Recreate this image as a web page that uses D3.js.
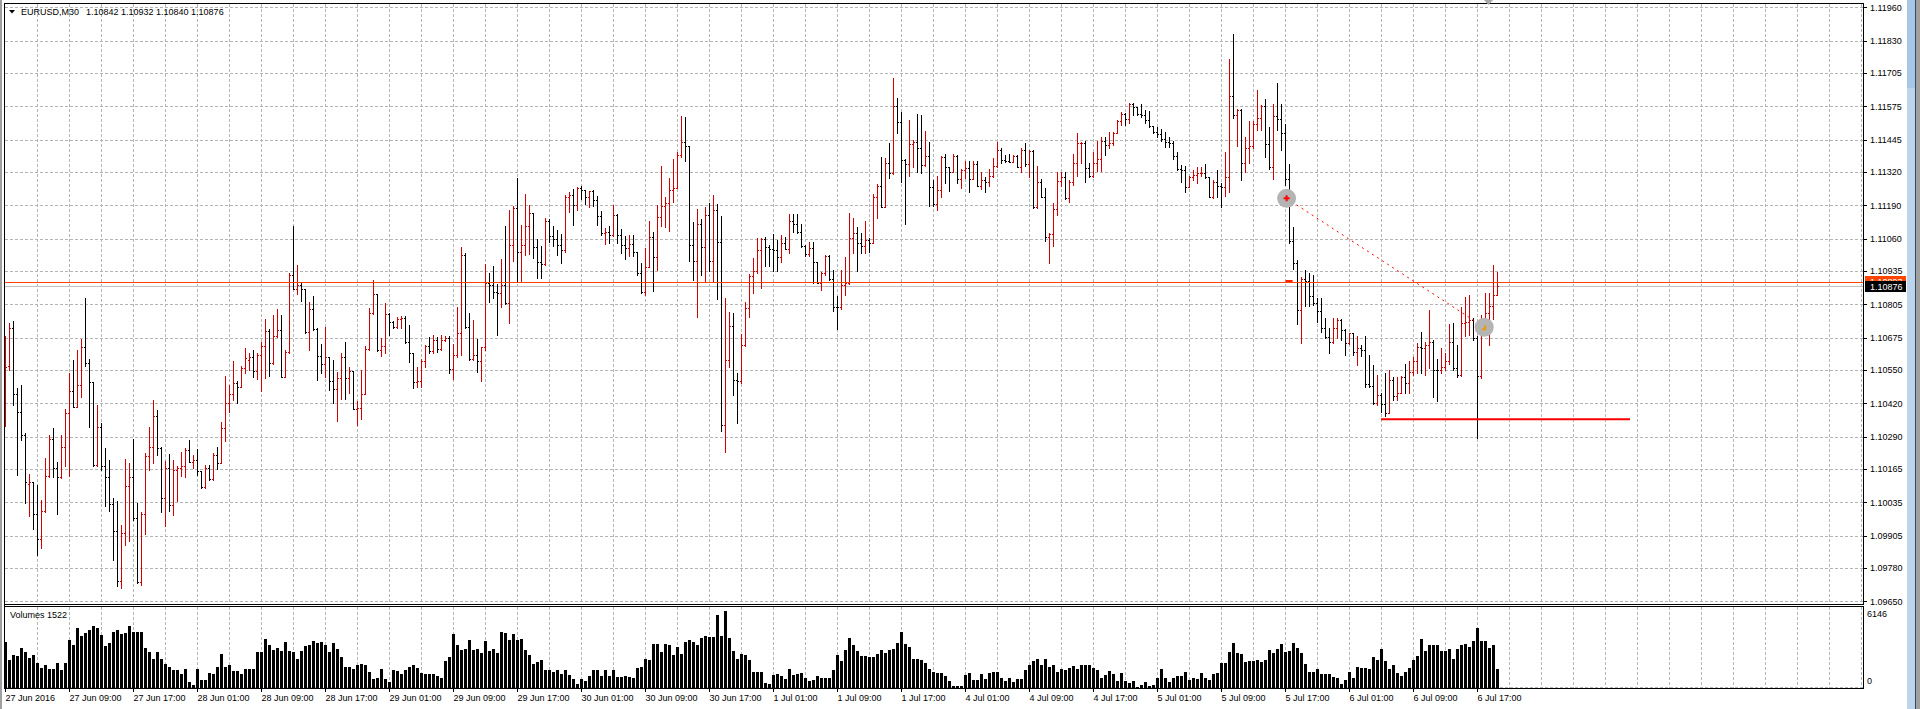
<!DOCTYPE html>
<html>
<head>
<meta charset="utf-8">
<title>EURUSD,M30</title>
<script src="https://cdnjs.cloudflare.com/ajax/libs/d3/7.8.5/d3.min.js"></script>
<style>
  html, body { margin: 0; padding: 0; background: #fff; overflow: hidden; }
  svg { display: block; }
  text { font-family: "Liberation Sans", Arial, sans-serif; font-size: 9px; fill: #000; }
</style>
</head>
<body>
<svg id="chart"></svg>
<script>
// M30 bars, 27 Jun 2016 - 6 Jul 2016
const opens = [
  1.10433,1.10566,1.10712,1.10455,1.10385,1.10296,1.10105,1.10115,1.09989,1.09892,
  1.10003,1.10137,1.10280,1.10170,1.10133,1.10249,1.10381,1.10468,1.10407,1.10490,
  1.10638,1.10576,1.10503,1.10179,1.10328,1.10178,1.10133,1.10028,1.09924,1.09728,
  1.09915,1.10098,1.10135,1.09973,1.09724,1.09990,1.10216,1.10252,1.10371,1.10248,
  1.10051,1.10168,1.10024,1.10161,1.10168,1.10177,1.10239,1.10191,1.10200,1.10155,
  1.10094,1.10168,1.10126,1.10220,1.10187,1.10323,1.10420,1.10455,1.10498,1.10485,
  1.10556,1.10590,1.10600,1.10545,1.10606,1.10643,1.10700,1.10578,1.10682,1.10705,
  1.10523,1.10621,1.10919,1.10864,1.10882,1.10864,1.10696,1.10785,1.10707,1.10604,
  1.10571,1.10599,1.10508,1.10475,1.10517,1.10601,1.10517,1.10545,1.10396,1.10402,
  1.10455,1.10631,1.10770,1.10844,1.10627,1.10643,1.10767,1.10735,1.10715,1.10746,
  1.10750,1.10659,1.10614,1.10501,1.10508,1.10586,1.10644,1.10624,1.10666,1.10630,
  1.10666,1.10673,1.10552,1.10608,1.10692,1.10996,1.10715,1.10592,1.10608,1.10584,
  1.10637,1.10886,1.10882,1.10851,1.10848,1.10881,1.10809,1.11034,1.11179,1.11008,
  1.11034,1.11110,1.11159,1.11028,1.10969,1.10962,1.11130,1.11071,1.11058,1.11036,
  1.11017,1.11222,1.11230,1.11192,1.11258,1.11250,1.11224,1.11244,1.11211,1.11150,
  1.11082,1.11088,1.11073,1.11153,1.11073,1.11036,1.11023,1.11039,1.11008,1.10926,
  1.10852,1.10949,1.11066,1.10988,1.11146,1.11188,1.11198,1.11250,1.11259,1.11386,
  1.11435,1.11421,1.11034,1.10974,1.11118,1.11027,1.11152,1.10975,1.11170,1.11047,
  1.10334,1.10587,1.10719,1.10509,1.10507,1.10647,1.10790,1.10916,1.10935,1.11015,
  1.11059,1.11029,1.11019,1.11016,1.10988,1.11045,1.11020,1.11128,1.11116,1.11085,
  1.11032,1.10999,1.11023,1.10971,1.10889,1.10926,1.10992,1.10904,1.10796,1.10793,
  1.10880,1.10887,1.11062,1.11081,1.11045,1.11032,1.11055,1.11045,1.11224,1.11265,
  1.11185,1.11353,1.11314,1.11576,1.11515,1.11366,1.11349,1.11427,1.11437,1.11414,
  1.11347,1.11383,1.11260,1.11195,1.11250,1.11379,1.11338,1.11321,1.11383,1.11292,
  1.11327,1.11334,1.11291,1.11349,1.11266,1.11288,1.11282,1.11305,1.11343,1.11405,
  1.11366,1.11363,1.11360,1.11382,1.11340,1.11407,1.11349,1.11401,1.11185,1.11282,
  1.11221,1.11065,1.11078,1.11175,1.11284,1.11301,1.11217,1.11279,1.11353,1.11431,
  1.11434,1.11334,1.11305,1.11353,1.11369,1.11440,1.11424,1.11433,1.11470,1.11518,
  1.11544,1.11524,1.11582,1.11573,1.11544,1.11541,1.11521,1.11499,1.11476,1.11467,
  1.11448,1.11435,1.11432,1.11382,1.11330,1.11327,1.11262,1.11301,1.11308,1.11314,
  1.11317,1.11299,1.11223,1.11282,1.11265,1.11260,1.11299,1.11615,1.11541,1.11560,
  1.11356,1.11411,1.11422,1.11505,1.11529,1.11577,1.11429,1.11338,1.11538,1.11526,
  1.11470,1.11292,1.11053,1.10965,1.10784,1.10905,1.10894,1.10838,1.10809,1.10780,
  1.10712,1.10676,1.10660,1.10712,1.10745,1.10706,1.10656,1.10693,1.10618,1.10634,
  1.10628,1.10494,1.10488,1.10421,1.10453,1.10417,1.10384,1.10509,1.10447,1.10462,
  1.10522,1.10498,1.10541,1.10583,1.10638,1.10634,1.10647,1.10660,1.10550,1.10548,
  1.10563,1.10583,1.10660,1.10557,1.10531,1.10732,1.10738,1.10745,1.10673,1.10527,
  1.10695,1.10771,1.10797,1.10842
];
const highs = [
  1.10682,1.10731,1.10740,1.10479,1.10492,1.10304,1.10146,1.10115,1.10103,1.10045,
  1.10207,1.10296,1.10323,1.10191,1.10296,1.10398,1.10537,1.10589,1.10628,1.10669,
  1.10829,1.10593,1.10503,1.10414,1.10343,1.10247,1.10200,1.10051,1.10039,1.09947,
  1.10204,1.10188,1.10282,1.10032,1.09999,1.10227,1.10326,1.10433,1.10394,1.10250,
  1.10194,1.10223,1.10200,1.10178,1.10231,1.10247,1.10278,1.10220,1.10242,1.10155,
  1.10181,1.10181,1.10226,1.10249,1.10346,1.10527,1.10492,1.10585,1.10508,1.10566,
  1.10634,1.10617,1.10627,1.10614,1.10657,1.10748,1.10709,1.10763,1.10787,1.10763,
  1.10627,1.10925,1.11109,1.10958,1.10889,1.10864,1.10815,1.10837,1.10714,1.10650,
  1.10715,1.10600,1.10588,1.10543,1.10617,1.10658,1.10562,1.10545,1.10430,1.10549,
  1.10643,1.10789,1.10899,1.10845,1.10673,1.10809,1.10770,1.10741,1.10757,1.10760,
  1.10760,1.10724,1.10617,1.10562,1.10591,1.10647,1.10679,1.10685,1.10679,1.10685,
  1.10683,1.10683,1.10650,1.10796,1.11029,1.11005,1.10770,1.10744,1.10670,1.10640,
  1.10962,1.10928,1.10954,1.10884,1.10981,1.11110,1.11172,1.11188,1.11298,1.11114,
  1.11235,1.11192,1.11159,1.11058,1.11030,1.11141,1.11136,1.11108,1.11095,1.11078,
  1.11231,1.11242,1.11254,1.11260,1.11266,1.11250,1.11246,1.11250,1.11228,1.11168,
  1.11101,1.11108,1.11190,1.11157,1.11097,1.11069,1.11075,1.11075,1.11010,1.10965,
  1.11023,1.11130,1.11085,1.11192,1.11343,1.11224,1.11295,1.11369,1.11399,1.11538,
  1.11533,1.11421,1.11124,1.11176,1.11137,1.11185,1.11198,1.11231,1.11194,1.11149,
  1.10829,1.10777,1.10773,1.10537,1.10690,1.10812,1.10923,1.10986,1.11064,1.11062,
  1.11068,1.11036,1.11078,1.11055,1.11075,1.11068,1.11156,1.11156,1.11156,1.11117,
  1.11035,1.11049,1.11046,1.10971,1.10931,1.10997,1.10997,1.10938,1.10837,1.10938,
  1.10990,1.11159,1.11139,1.11107,1.11081,1.11129,1.11064,1.11233,1.11273,1.11377,
  1.11373,1.11431,1.11686,1.11606,1.11554,1.11369,1.11522,1.11444,1.11545,1.11541,
  1.11479,1.11437,1.11288,1.11304,1.11382,1.11388,1.11338,1.11388,1.11386,1.11330,
  1.11362,1.11362,1.11364,1.11364,1.11318,1.11299,1.11331,1.11375,1.11437,1.11411,
  1.11385,1.11389,1.11385,1.11385,1.11411,1.11431,1.11405,1.11405,1.11343,1.11291,
  1.11258,1.11081,1.11200,1.11321,1.11321,1.11319,1.11288,1.11389,1.11472,1.11437,
  1.11440,1.11353,1.11398,1.11440,1.11457,1.11454,1.11476,1.11474,1.11521,1.11551,
  1.11547,1.11586,1.11586,1.11573,1.11582,1.11560,1.11556,1.11499,1.11495,1.11485,
  1.11476,1.11454,1.11441,1.11398,1.11347,1.11343,1.11304,1.11327,1.11337,1.11337,
  1.11350,1.11301,1.11288,1.11327,1.11275,1.11398,1.11760,1.11855,1.11563,1.11563,
  1.11457,1.11519,1.11516,1.11639,1.11580,1.11604,1.11494,1.11584,1.11665,1.11583,
  1.11507,1.11351,1.11105,1.10978,1.10912,1.10939,1.10926,1.10920,1.10829,1.10829,
  1.10751,1.10712,1.10751,1.10751,1.10747,1.10708,1.10695,1.10695,1.10680,1.10647,
  1.10682,1.10609,1.10570,1.10531,1.10462,1.10537,1.10548,1.10524,1.10522,1.10527,
  1.10572,1.10583,1.10599,1.10656,1.10699,1.10660,1.10784,1.10665,1.10592,1.10634,
  1.10615,1.10729,1.10732,1.10647,1.10796,1.10835,1.10842,1.10750,1.10680,1.10764,
  1.10849,1.10849,1.10958,1.10932
];
const lows = [
  1.10330,1.10550,1.10414,1.10142,1.10278,1.10034,1.09980,1.09931,1.09831,1.09857,
  1.09999,1.10135,1.10133,1.09989,1.10129,1.10178,1.10139,1.10405,1.10405,1.10444,
  1.10566,1.10326,1.10178,1.10178,1.10159,1.10019,1.10003,1.09809,1.09708,1.09700,
  1.09870,1.09886,1.09967,1.09723,1.09714,1.09912,1.10161,1.10187,1.10219,1.09999,
  1.09943,1.10003,1.09986,1.10039,1.10138,1.10135,1.10190,1.10168,1.10142,1.10092,
  1.10092,1.10122,1.10120,1.10165,1.10187,1.10275,1.10388,1.10431,1.10420,1.10485,
  1.10537,1.10550,1.10523,1.10514,1.10469,1.10517,1.10527,1.10573,1.10676,1.10521,
  1.10523,1.10617,1.10864,1.10845,1.10819,1.10695,1.10627,1.10705,1.10511,1.10539,
  1.10521,1.10472,1.10420,1.10352,1.10438,1.10437,1.10459,1.10396,1.10336,1.10360,
  1.10455,1.10627,1.10767,1.10625,1.10605,1.10614,1.10685,1.10711,1.10711,1.10711,
  1.10656,1.10582,1.10481,1.10485,1.10485,1.10562,1.10614,1.10614,1.10621,1.10627,
  1.10663,1.10536,1.10514,1.10601,1.10608,1.10711,1.10588,1.10588,1.10543,1.10508,
  1.10627,1.10815,1.10828,1.10685,1.10794,1.10807,1.10734,1.10975,1.10890,1.10890,
  1.10995,1.11001,1.10984,1.10909,1.10909,1.10958,1.11049,1.11030,1.10995,1.10964,
  1.11010,1.11162,1.11114,1.11172,1.11215,1.11196,1.11185,1.11189,1.11114,1.11075,
  1.11040,1.11043,1.11071,1.11045,1.11004,1.10981,1.10991,1.10993,1.10917,1.10848,
  1.10842,1.10949,1.10855,1.10939,1.11108,1.11105,1.11092,1.11202,1.11257,1.11377,
  1.11364,1.10975,1.10900,1.10754,1.10917,1.10890,1.10933,1.10890,1.10826,1.10314,
  1.10229,1.10561,1.10453,1.10345,1.10500,1.10644,1.10754,1.10850,1.10926,1.10870,
  1.10952,1.10952,1.10936,1.10936,1.10971,1.11020,1.11006,1.11088,1.11084,1.11029,
  1.10994,1.10994,1.10887,1.10887,1.10861,1.10919,1.10900,1.10780,1.10709,1.10787,
  1.10841,1.10884,1.11006,1.10936,1.11006,1.11003,1.11010,1.11045,1.11139,1.11185,
  1.11182,1.11295,1.11310,1.11472,1.11282,1.11116,1.11304,1.11338,1.11321,1.11317,
  1.11344,1.11189,1.11189,1.11172,1.11221,1.11275,1.11247,1.11318,1.11275,1.11259,
  1.11295,1.11243,1.11291,1.11265,1.11253,1.11243,1.11265,1.11301,1.11338,1.11356,
  1.11357,1.11359,1.11359,1.11337,1.11321,1.11343,1.11299,1.11181,1.11178,1.11221,
  1.11051,1.10967,1.11033,1.11152,1.11265,1.11213,1.11204,1.11269,1.11304,1.11356,
  1.11282,1.11299,1.11301,1.11325,1.11325,1.11385,1.11411,1.11424,1.11470,1.11502,
  1.11502,1.11509,1.11541,1.11541,1.11534,1.11511,1.11495,1.11472,1.11454,1.11440,
  1.11418,1.11418,1.11370,1.11327,1.11282,1.11243,1.11262,1.11288,1.11275,1.11304,
  1.11296,1.11221,1.11217,1.11223,1.11185,1.11226,1.11243,1.11528,1.11420,1.11288,
  1.11321,1.11356,1.11412,1.11481,1.11481,1.11376,1.11330,1.11292,1.11483,1.11406,
  1.11269,1.11043,1.10942,1.10728,1.10654,1.10800,1.10800,1.10803,1.10738,1.10699,
  1.10673,1.10615,1.10654,1.10673,1.10667,1.10609,1.10650,1.10609,1.10570,1.10602,
  1.10485,1.10485,1.10418,1.10414,1.10388,1.10369,1.10382,1.10434,1.10434,1.10459,
  1.10459,1.10459,1.10531,1.10537,1.10537,1.10531,1.10557,1.10444,1.10427,1.10537,
  1.10550,1.10574,1.10550,1.10522,1.10528,1.10680,1.10686,1.10667,1.10285,1.10520,
  1.10693,1.10647,1.10749,1.10840
];
const closes = [
  1.10560,1.10712,1.10455,1.10385,1.10296,1.10113,1.10115,1.09989,1.09892,1.10003,
  1.10137,1.10280,1.10170,1.10133,1.10249,1.10381,1.10468,1.10407,1.10490,1.10638,
  1.10576,1.10503,1.10179,1.10328,1.10178,1.10133,1.10028,1.09924,1.09728,1.09915,
  1.10098,1.10135,1.09973,1.09724,1.09990,1.10216,1.10252,1.10371,1.10248,1.10051,
  1.10168,1.10024,1.10161,1.10168,1.10177,1.10239,1.10191,1.10200,1.10155,1.10094,
  1.10168,1.10126,1.10220,1.10187,1.10323,1.10420,1.10455,1.10498,1.10485,1.10556,
  1.10595,1.10600,1.10545,1.10606,1.10643,1.10700,1.10578,1.10682,1.10705,1.10523,
  1.10621,1.10919,1.10864,1.10882,1.10864,1.10696,1.10785,1.10707,1.10604,1.10571,
  1.10599,1.10508,1.10475,1.10517,1.10601,1.10517,1.10545,1.10396,1.10402,1.10455,
  1.10631,1.10770,1.10844,1.10627,1.10643,1.10767,1.10735,1.10715,1.10748,1.10750,
  1.10659,1.10614,1.10501,1.10508,1.10586,1.10644,1.10624,1.10666,1.10630,1.10666,
  1.10673,1.10552,1.10608,1.10692,1.10996,1.10715,1.10592,1.10608,1.10584,1.10637,
  1.10886,1.10882,1.10851,1.10848,1.10881,1.10809,1.11034,1.11179,1.11008,1.11034,
  1.11110,1.11159,1.11028,1.10969,1.10962,1.11130,1.11071,1.11058,1.11036,1.11017,
  1.11222,1.11230,1.11192,1.11258,1.11250,1.11224,1.11244,1.11211,1.11150,1.11082,
  1.11088,1.11073,1.11153,1.11073,1.11036,1.11023,1.11039,1.11008,1.10926,1.10852,
  1.10949,1.11066,1.10988,1.11146,1.11188,1.11198,1.11250,1.11259,1.11386,1.11435,
  1.11421,1.11034,1.10974,1.11118,1.11027,1.11152,1.10975,1.11170,1.11047,1.10334,
  1.10587,1.10719,1.10509,1.10507,1.10647,1.10790,1.10916,1.10935,1.11015,1.11059,
  1.11029,1.11019,1.11016,1.10988,1.11045,1.11020,1.11128,1.11116,1.11085,1.11032,
  1.10999,1.11023,1.10971,1.10889,1.10926,1.10992,1.10904,1.10796,1.10793,1.10880,
  1.10887,1.11062,1.11081,1.11045,1.11032,1.11055,1.11045,1.11224,1.11265,1.11185,
  1.11353,1.11314,1.11576,1.11515,1.11366,1.11349,1.11427,1.11437,1.11414,1.11347,
  1.11383,1.11260,1.11195,1.11250,1.11379,1.11338,1.11321,1.11383,1.11292,1.11327,
  1.11334,1.11291,1.11349,1.11266,1.11288,1.11282,1.11305,1.11343,1.11405,1.11366,
  1.11363,1.11360,1.11382,1.11340,1.11407,1.11349,1.11401,1.11185,1.11282,1.11221,
  1.11065,1.11078,1.11175,1.11284,1.11301,1.11217,1.11279,1.11353,1.11431,1.11434,
  1.11334,1.11305,1.11353,1.11369,1.11440,1.11424,1.11433,1.11470,1.11518,1.11544,
  1.11524,1.11582,1.11573,1.11544,1.11541,1.11521,1.11499,1.11476,1.11467,1.11448,
  1.11435,1.11432,1.11382,1.11330,1.11327,1.11262,1.11301,1.11308,1.11314,1.11317,
  1.11299,1.11223,1.11282,1.11265,1.11260,1.11299,1.11615,1.11541,1.11560,1.11356,
  1.11411,1.11422,1.11505,1.11529,1.11577,1.11429,1.11338,1.11538,1.11526,1.11470,
  1.11292,1.11053,1.10965,1.10784,1.10905,1.10894,1.10838,1.10809,1.10780,1.10712,
  1.10676,1.10660,1.10712,1.10745,1.10706,1.10656,1.10693,1.10618,1.10634,1.10628,
  1.10494,1.10488,1.10421,1.10453,1.10417,1.10384,1.10509,1.10447,1.10462,1.10522,
  1.10498,1.10541,1.10583,1.10638,1.10634,1.10647,1.10660,1.10550,1.10548,1.10563,
  1.10583,1.10660,1.10557,1.10531,1.10732,1.10738,1.10745,1.10673,1.10527,1.10695,
  1.10771,1.10797,1.10842,1.10876
];
const volumes = [
  3670,2260,2600,2520,3220,2840,2390,2600,1980,1610,
  1870,1550,1550,2030,1400,1980,3810,3410,4750,4130,
  4400,4610,4940,4750,4270,3320,3600,4480,4610,4350,
  4400,4940,4450,4450,4450,3200,2880,2330,2880,2330,
  1930,1660,1400,1400,1080,1480,460,240,1480,640,640,
  1180,1130,1660,2680,1710,1800,1340,1340,1080,1500,
  1480,1480,2880,2880,3940,3410,3000,3220,2930,3670,
  2930,2880,2330,2930,3320,3410,3760,3600,3670,3410,
  2880,3620,3140,2470,1660,1710,1530,1870,1930,1870,
  1260,720,810,1480,720,460,1400,1340,1130,1450,
  1660,1800,1610,1180,1130,1080,1080,990,810,2150,
  2470,4350,3410,3000,3140,3810,3000,3140,2790,3760,
  2930,3140,2790,4480,4400,3870,4350,3810,3940,3060,
  2600,1930,2070,2200,1400,1400,1260,1450,1130,1400,1070,
  720,320,720,590,990,1400,1400,920,1400,920,
  1400,860,860,990,860,810,1610,
  1660,2330,2260,3490,3550,2880,3490,3410,2600,3270,
  2680,3670,3810,3670,3410,4030,4130,4080,4080,5830,
  4130,6146,4030,2930,2330,2740,2600,2200,1310,1310,
  1310,400,320,1040,1130,920,720,1530,1040,1130,
  1180,810,590,640,990,810,810,810,1450,2600,
  2120,3000,4030,3410,2950,2520,2520,2470,2470,2740,
  3060,2790,3060,3140,3620,4430,3550,3270,2330,2280,
  2260,1980,1530,1260,1200,1180,990,530,190,190,
  190,1040,1180,640,640,1130,720,1180,1260,1260,
  810,590,810,460,720,720,1400,1800,2150,2330,
  1870,2280,1660,1870,1260,1480,1400,1590,1750,1480,
  1800,1800,1870,1590,1450,810,1060,1340,1130,530,1180,
  530,370,590,110,270,460,190,210,810,1530,
  810,460,810,920,990,1260,640,810,720,1180,
  810,640,1130,1180,1980,1980,2880,3620,2790,2680,
  2070,2150,2120,2200,2070,2200,3000,2790,3100,
  3490,2880,2930,3620,3200,2790,1930,1310,1310,1530,
  1130,1080,1080,860,810,320,640,1310,810,1710,
  1610,1590,1480,2470,2200,3140,2150,1480,1850,1180,
  990,1260,1610,2260,2520,3940,2950,3460,3410,3410,
  2950,2950,3090,2280,3140,3410,3490,3270,3760,4750,
  3760,3730,3220,3410,1522
];

// price scale labels, as printed on the right
const priceTicks = ["1.11960","1.11830","1.11705","1.11575","1.11445","1.11320","1.11190",
  "1.11060","1.10935","1.10805","1.10675","1.10550","1.10420","1.10290","1.10165",
  "1.10035","1.09905","1.09780","1.09650"];

// time scale labels and the bar each one sits on
const timeTickBars = [0,16,32,48,64,80,96,112,128,144,160,176,192,208,224,240,256,272,288,304,320,336,352,368];
const timeTickLabels = ["27 Jun 2016","27 Jun 09:00","27 Jun 17:00","28 Jun 01:00","28 Jun 09:00",
  "28 Jun 17:00","29 Jun 01:00","29 Jun 09:00","29 Jun 17:00","30 Jun 01:00","30 Jun 09:00",
  "30 Jun 17:00","1 Jul 01:00","1 Jul 09:00","1 Jul 17:00","4 Jul 01:00","4 Jul 09:00",
  "4 Jul 17:00","5 Jul 01:00","5 Jul 09:00","5 Jul 17:00","6 Jul 01:00","6 Jul 09:00","6 Jul 17:00"];

// chart objects: [bar index, price]
const hLinePrice = 1.10893;
const bidPrice = 1.10876;
const supportLine = [[344, 1.10358], [406.25, 1.10358]];
const trendLine = [[320.4, 1.11217], [369.8, 1.10716]];
const volumeMax = 6146;

// ---- layout ----
const W = 1920, H = 709;
const plotL = 4, plotR = 1863, plotT = 3, mainB = 604, volT = 606, volB = 688;
const upColor = '#d00000', downColor = '#000000';
const gridColor = '#b4b4b4';

const svg = d3.select('#chart').attr('width', W).attr('height', H);

const n = opens.length;
const x = d3.scaleLinear().domain([0, n - 1]).range([5, 5 + 4 * (n - 1)]);
const y = d3.scaleLinear().domain([1.0965, 1.1196]).range([601.3, 7.3]);
const yv = d3.scaleLinear().domain([0, volumeMax]).range([volB, 611]);

// window edges
svg.append('rect').attr('x', 0).attr('y', 0).attr('width', 2).attr('height', H).attr('fill', '#a0a0a0');
svg.append('rect').attr('x', 1907).attr('y', 0).attr('width', 8).attr('height', H).attr('fill', '#bcd4ec');
svg.append('rect').attr('x', 1907).attr('y', 0).attr('width', 8).attr('height', 88).attr('fill', '#a8c6e8');
svg.append('rect').attr('x', 1915).attr('y', 0).attr('width', 1).attr('height', H).attr('fill', '#3b4a5a');
svg.append('rect').attr('x', 1916).attr('y', 0).attr('width', 4).attr('height', H).attr('fill', '#a0a0a0');

// grid
const grid = svg.append('g')
    .attr('stroke', gridColor)
    .attr('stroke-width', 1)
    .attr('stroke-dasharray', '3,2')
    .attr('shape-rendering', 'crispEdges');

grid.selectAll('.hg').data(priceTicks).join('line')
    .attr('x1', plotL + 1).attr('x2', plotR)
    .attr('y1', d => Math.round(y(+d)) + 0.5)
    .attr('y2', d => Math.round(y(+d)) + 0.5);

const gridBars = d3.range(8, 465, 8);
grid.selectAll('.vg').data(gridBars).join('line')
    .attr('x1', d => x(d) + 0.5).attr('x2', d => x(d) + 0.5)
    .attr('y1', plotT + 1).attr('y2', mainB);
grid.selectAll('.vgv').data(gridBars).join('line')
    .attr('x1', d => x(d) + 0.5).attr('x2', d => x(d) + 0.5)
    .attr('y1', volT + 1).attr('y2', volB);
grid.append('line')
    .attr('x1', plotL + 1).attr('x2', plotR)
    .attr('y1', volB - 0.5).attr('y2', volB - 0.5);

// bid line sits behind the bars
svg.append('line')
    .attr('x1', plotL + 1).attr('x2', plotR)
    .attr('y1', Math.round(y(bidPrice)) + 0.5).attr('y2', Math.round(y(bidPrice)) + 0.5)
    .attr('stroke', '#c0c0c0').attr('shape-rendering', 'crispEdges');

// OHLC bars
const idx = d3.range(n);
const barColor = i => closes[i] > opens[i] ? upColor : downColor;
const bars = svg.append('g').attr('shape-rendering', 'crispEdges');

bars.selectAll('.hl').data(idx).join('rect')
    .attr('x', i => x(i))
    .attr('y', i => Math.round(y(highs[i])))
    .attr('width', 1)
    .attr('height', i => Math.max(1, Math.round(y(lows[i])) - Math.round(y(highs[i])) + 1))
    .attr('fill', barColor);

bars.selectAll('.op').data(idx).join('rect')
    .attr('x', i => x(i) - 1)
    .attr('y', i => Math.round(y(opens[i])))
    .attr('width', 1).attr('height', 1)
    .attr('fill', barColor);

bars.selectAll('.cl').data(idx).join('rect')
    .attr('x', i => x(i) + 1)
    .attr('y', i => Math.round(y(closes[i])))
    .attr('width', 1).attr('height', 1)
    .attr('fill', barColor);

// volumes
svg.append('g').attr('shape-rendering', 'crispEdges')
  .selectAll('rect').data(idx).join('rect')
    .attr('x', i => x(i) - 1)
    .attr('y', i => Math.round(yv(volumes[i])))
    .attr('width', 3)
    .attr('height', i => volB - Math.round(yv(volumes[i])))
    .attr('fill', '#000');

// objects: horizontal line, support line, trend line and its two markers
const hy = Math.round(y(hLinePrice)) + 0.5;
svg.append('line')
    .attr('x1', plotL + 1).attr('x2', plotR).attr('y1', hy).attr('y2', hy)
    .attr('stroke', '#ff4500').attr('shape-rendering', 'crispEdges');
svg.append('line')
    .attr('x1', x(trendLine[0][0]) - 1).attr('x2', x(trendLine[0][0]) + 6)
    .attr('y1', hy - 1.5).attr('y2', hy - 1.5)
    .attr('stroke', '#ff2000').attr('stroke-width', 2);

const line = d3.line().x(d => x(d[0])).y(d => y(d[1]));

svg.append('path')
    .datum(supportLine)
    .attr('d', line)
    .attr('stroke', '#ff0000')
    .attr('stroke-width', 2)
    .attr('fill', 'none');

svg.append('path')
    .datum(trendLine)
    .attr('d', line)
    .attr('stroke', '#ff0000')
    .attr('stroke-width', 1)
    .attr('stroke-dasharray', '2,4')
    .attr('fill', 'none');

const m1 = trendLine[0], m2 = trendLine[1];
svg.append('circle').attr('cx', x(m1[0])).attr('cy', y(m1[1])).attr('r', 9.5).attr('fill', '#b4b4b4');
svg.append('path')
    .attr('d', `M${x(m1[0]) - 3},${y(m1[1])}h6M${x(m1[0])},${y(m1[1]) - 3}v6`)
    .attr('stroke', '#ff0000').attr('stroke-width', 2);
svg.append('circle').attr('cx', x(m2[0])).attr('cy', y(m2[1])).attr('r', 9.5).attr('fill', '#b4b4b4');
svg.append('path')
    .attr('d', `M${x(m2[0]) - 3},${y(m2[1]) + 3}L${x(m2[0]) + 2},${y(m2[1]) - 3}L${x(m2[0]) + 2},${y(m2[1]) + 3}Z`)
    .attr('fill', '#e89a10');

// frames
const frame = svg.append('g').attr('fill', '#000').attr('shape-rendering', 'crispEdges');
frame.append('rect').attr('x', plotL).attr('y', plotT).attr('width', plotR - plotL + 1).attr('height', 1);
frame.append('rect').attr('x', plotL).attr('y', plotT).attr('width', 1).attr('height', volB - plotT + 1);
frame.append('rect').attr('x', plotR).attr('y', plotT).attr('width', 1).attr('height', mainB - plotT + 1);
frame.append('rect').attr('x', plotL).attr('y', mainB).attr('width', plotR - plotL + 1).attr('height', 1);
frame.append('rect').attr('x', plotL).attr('y', volT).attr('width', plotR - plotL + 1).attr('height', 1);
frame.append('rect').attr('x', plotR).attr('y', volT).attr('width', 1).attr('height', volB - volT + 1);
frame.append('rect').attr('x', plotL).attr('y', volB).attr('width', plotR - plotL + 1).attr('height', 1);

// price axis
const priceAxis = svg.append('g')
    .attr('transform', `translate(${plotR + 1},0)`)
    .attr('shape-rendering', 'crispEdges')
    .call(d3.axisRight(y)
        .tickValues(priceTicks.map(Number))
        .tickFormat((d, i) => priceTicks[i])
        .tickSize(3)
        .tickPadding(3));
priceAxis.select('.domain').remove();
priceAxis.selectAll('text')
    .attr('font-family', '"Liberation Sans", Arial, sans-serif')
    .attr('font-size', 9)
    .attr('fill', '#000');

// price labels for the horizontal line and bid
svg.append('rect').attr('x', 1865).attr('y', 276).attr('width', 41).attr('height', 11).attr('fill', '#ff4500');
svg.append('text').attr('x', 1870).attr('y', 284.5).style('fill', '#fff').text(hLinePrice.toFixed(5));
const by = Math.round(y(bidPrice));
svg.append('rect').attr('x', 1865).attr('y', by - 5).attr('width', 41).attr('height', 11).attr('fill', '#000');
svg.append('text').attr('x', 1870).attr('y', by + 3.5).style('fill', '#fff').text(bidPrice.toFixed(5));

// time axis
const timeAxis = svg.append('g')
    .attr('transform', `translate(0,${volB + 1})`)
    .attr('shape-rendering', 'crispEdges')
    .call(d3.axisBottom(x)
        .tickValues(timeTickBars)
        .tickFormat((d, i) => timeTickLabels[i])
        .tickSize(3)
        .tickPadding(3));
timeAxis.select('.domain').remove();
timeAxis.selectAll('text')
    .attr('text-anchor', 'start')
    .attr('x', 0)
    .attr('font-family', '"Liberation Sans", Arial, sans-serif')
    .attr('font-size', 9)
    .attr('fill', '#000');

// volume window labels
svg.append('text').attr('x', 10).attr('y', 618).text(`Volumes ${volumes[n - 1]}`);
svg.append('text').attr('x', 1867).attr('y', 616.5).text(volumeMax);
svg.append('text').attr('x', 1867).attr('y', 684).text(0);

// header
svg.append('path').attr('d', 'M9,10L15,10L12,13.5Z').attr('fill', '#000');
svg.append('text').attr('x', 21).attr('y', 15).text('EURUSD,M30');
svg.append('text').attr('x', 86).attr('y', 15)
    .text([opens[n - 1], highs[n - 1], lows[n - 1], closes[n - 1]].map(v => v.toFixed(5)).join(' '));

// chart shift marker
svg.append('path').attr('d', 'M1484,0L1493,0L1488.5,5Z').attr('fill', '#a8a8a8');
</script>
</body>
</html>
